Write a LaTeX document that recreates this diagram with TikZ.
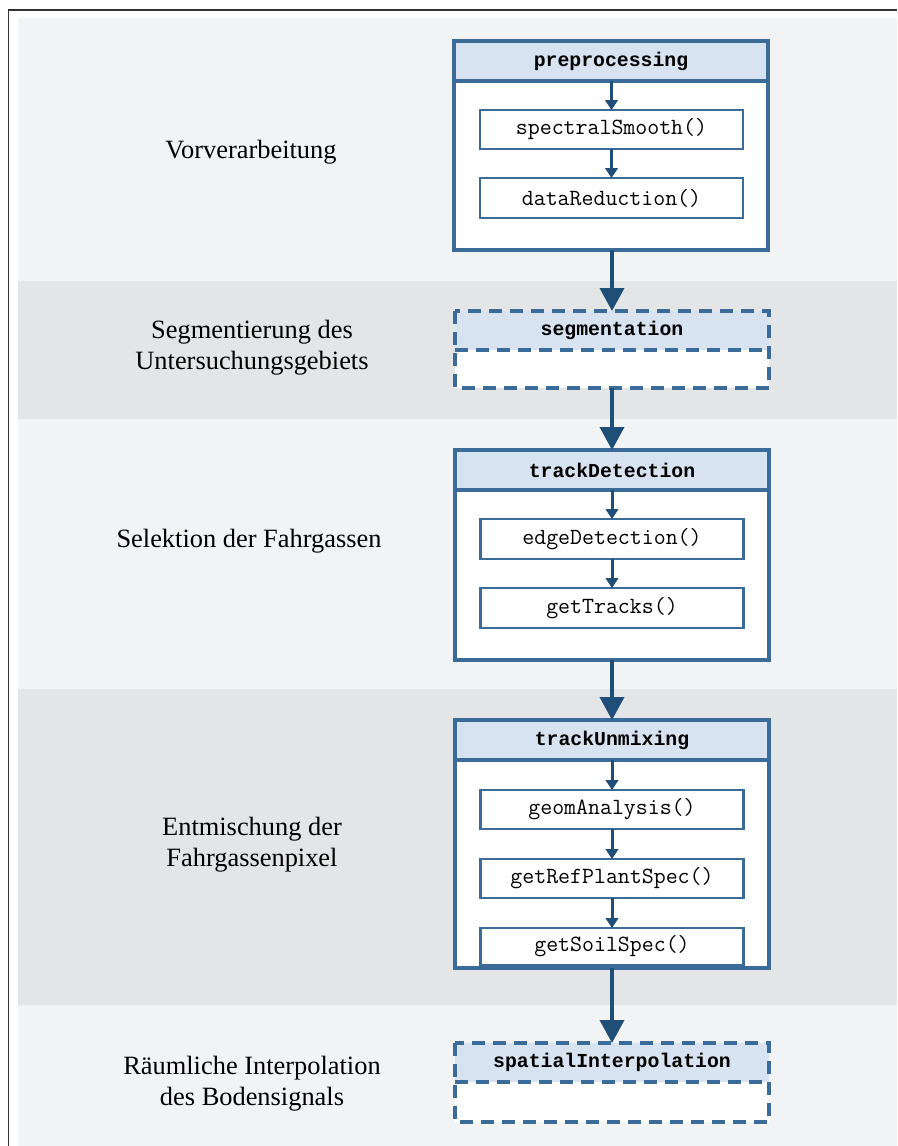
\documentclass[tikz,border=0pt]{standalone}
\usepackage{fontspec}
\setmainfont{Liberation Serif}
\newfontfamily\headmono{Liberation Mono}
\usetikzlibrary{arrows.meta}
\definecolor{bandlight}{HTML}{F2F3F5}
\definecolor{banddark}{HTML}{E4E5E6}
\definecolor{boxblue}{HTML}{3A6B99}
\definecolor{arrowblue}{HTML}{1F4E79}
\definecolor{headblue}{HTML}{D7E3F1}
\definecolor{framegrey}{HTML}{333333}
\tikzset{
  outerfill/.style={fill=white, minimum width=314pt, inner sep=0pt, outer sep=0pt},
  headfill/.style={fill=headblue, minimum width=314pt, inner sep=0pt, outer sep=0pt,
    font=\fontsize{19.8}{23}\selectfont\headmono\bfseries},
  innerbox/.style={draw=boxblue, line width=2.6pt, fill=white, minimum width=263pt,
    inner sep=0pt, outer sep=0pt, font=\fontsize{23.2}{25}\selectfont\ttfamily},
  solidborder/.style={draw=boxblue, line width=3.2pt},
  dashborder/.style={draw=boxblue, line width=3.2pt, dash pattern=on 13pt off 8pt},
  bigarrow/.style={draw=arrowblue, line width=3.8pt, -{Triangle[width=24pt,length=23pt]}},
  smallarrow/.style={draw=arrowblue, line width=3pt, -{Triangle[width=12.5pt,length=10pt]}},
  stagelabel/.style={align=center, font=\fontsize{26.4}{31}\selectfont},
}
\begin{document}
\begin{tikzpicture}[x=1pt,y=-1pt]
\useasboundingbox (0,0) rectangle (897,1146);
% bands
\fill[white] (0,0) rectangle (897,1146);
\fill[bandlight] (18,18) rectangle (897,281);
\fill[banddark] (18,281) rectangle (897,419);
\fill[bandlight] (18,419) rectangle (897,689);
\fill[banddark] (18,689) rectangle (897,1005);
\fill[bandlight] (18,1005) rectangle (897,1146);
% frame
\draw[framegrey, line width=1.8pt] (8.5,1146) -- (8.5,10) -- (897,10);

% labels
\node[stagelabel] (l1) at (251,152) {Vorverarbeitung};
\node[stagelabel] (l2) at (252,347.5) {Segmentierung des\\Untersuchungsgebiets};
\node[stagelabel] (l3) at (249,541) {Selektion der Fahrgassen};
\node[stagelabel] (l4) at (252,844.5) {Entmischung der\\Fahrgassenpixel};
\node[stagelabel] (l5) at (252,1084) {Räumliche Interpolation\\des Bodensignals};

% stage 1: preprocessing
\node[outerfill, minimum height=209pt] (pre) at (611,145.5) {};
\node[headfill, minimum height=40pt] (preh) at (611,61) {preprocessing};
\draw[solidborder] (pre.north west) rectangle (pre.south east);
\draw[solidborder] (preh.south west) -- (preh.south east);
\node[innerbox, minimum height=39pt] (ss) at (611.5,129.5) {spectralSmooth()};
\node[innerbox, minimum height=40pt] (dr) at (611.5,198) {dataReduction()};
\draw[smallarrow] (preh.south -| ss.north) -- (ss.north);
\draw[smallarrow] (ss.south) -- (dr.north);

% stage 2: segmentation
\node[outerfill, minimum height=77pt] (seg) at (612,349.5) {};
\node[headfill, minimum height=39pt] (segh) at (612,330.5) {segmentation};
\draw[dashborder] (seg.north west) rectangle (seg.south east);
\draw[dashborder] (segh.south west) -- (segh.south east);

% stage 3: trackDetection
\node[outerfill, minimum height=210pt] (td) at (612,555) {};
\node[headfill, minimum height=40pt] (tdh) at (612,470) {trackDetection};
\draw[solidborder] (td.north west) rectangle (td.south east);
\draw[solidborder] (tdh.south west) -- (tdh.south east);
\node[innerbox, minimum height=40pt] (ed) at (612,539) {edgeDetection()};
\node[innerbox, minimum height=40pt] (gt) at (612,608) {getTracks()};
\draw[smallarrow] (tdh.south) -- (ed.north);
\draw[smallarrow] (ed.south) -- (gt.north);

% stage 4: trackUnmixing
\node[outerfill, minimum height=248pt] (tu) at (612,844) {};
\node[headfill, minimum height=40pt] (tuh) at (612,740) {trackUnmixing};
\draw[solidborder] (tu.north west) rectangle (tu.south east);
\draw[solidborder] (tuh.south west) -- (tuh.south east);
\node[innerbox, minimum height=39pt] (ga) at (612,809.5) {geomAnalysis()};
\node[innerbox, minimum height=39pt] (gr) at (612,878.5) {getRefPlantSpec()};
\node[innerbox, minimum height=37pt] (gs) at (612,946.5) {getSoilSpec()};
\draw[smallarrow] (tuh.south) -- (ga.north);
\draw[smallarrow] (ga.south) -- (gr.north);
\draw[smallarrow] (gr.south) -- (gs.north);

% stage 5: spatialInterpolation
\node[outerfill, minimum height=79pt] (si) at (612,1082.5) {};
\node[headfill, minimum height=39pt] (sih) at (612,1062.5) {spatialInterpolation};
\draw[dashborder] (si.north west) rectangle (si.south east);
\draw[dashborder] (sih.south west) -- (sih.south east);

% arrows between stages
\draw[bigarrow] (pre.south -| seg.north) -- (seg.north);
\draw[bigarrow] (seg.south) -- (td.north);
\draw[bigarrow] (td.south) -- (tu.north);
\draw[bigarrow] (tu.south) -- (si.north);
\end{tikzpicture}
\end{document}
